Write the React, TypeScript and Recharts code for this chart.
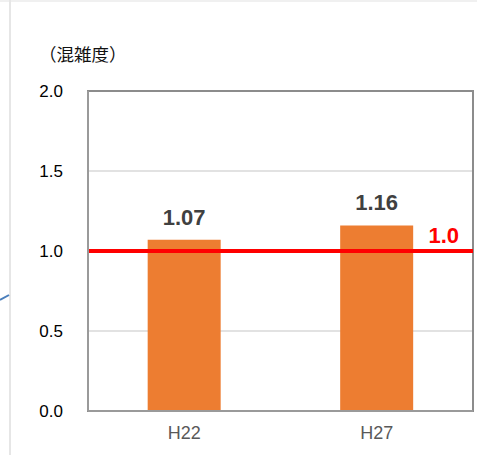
import { BarChart, Bar, XAxis, YAxis, CartesianGrid, ReferenceLine, ReferenceArea, LabelList } from "recharts";

const years = ["H22", "H27"];
const congestion = [1.07, 1.16];
const yTicks = [0, 0.5, 1.0, 1.5, 2.0];
const threshold = 1.0;

const data = years.map((y, i) => ({ year: y, value: congestion[i] }));

const ThresholdLabel = (props: any) => {
  const vb = props.viewBox || {};
  return (
    <text x={vb.x + vb.width - 14} y={vb.y - 8} textAnchor="end" fill="#ff0000" fontSize={22} fontWeight="bold" fontFamily="Liberation Sans, Arial, sans-serif">
      {threshold.toFixed(1)}
    </text>
  );
};

export default function App() {
  return (
    <div style={{ position: "relative", width: 477, height: 455, background: "#fff", fontFamily: "Liberation Sans, Arial, sans-serif" }}>
      <style>{`body{margin:0}`}</style>
      <div style={{ position: "absolute", left: 0, top: 0, width: 477, height: 2, background: "#f0f0f0" }} />
      <div style={{ position: "absolute", left: 9, top: 0, width: 2, height: 455, background: "#e6e6e6" }} />
      <svg style={{ position: "absolute", left: 0, top: 0 }} width={12} height={455}>
        <line x1={0} y1={300} x2={9} y2={295} stroke="#4a7ebb" strokeWidth={2} />
      </svg>
      <div style={{ position: "absolute", left: 39, top: 41, fontSize: 17.5, fontFamily: "Noto Sans CJK JP, sans-serif", color: "#111" }}>（混雑度）</div>
      <div style={{ position: "absolute", left: 0, top: 0 }}>
        <BarChart width={477} height={455} data={data} margin={{ top: 91, right: 4, bottom: 0, left: 0 }} barCategoryGap="31%">
          <CartesianGrid vertical={false} stroke="#d9d9d9" strokeWidth={1.5} />
          <XAxis dataKey="year" height={44} axisLine={{ stroke: "#9a9a9a", strokeWidth: 2 }} tickLine={false} tickSize={0} tickMargin={15} tick={{ fill: "#595959", fontSize: 18 }} />
          <YAxis domain={[0, 2]} ticks={yTicks} width={88} axisLine={{ stroke: "#9a9a9a", strokeWidth: 2 }} tickLine={false} tickSize={0} tickMargin={25} tick={{ fill: "#000", fontSize: 17 }} tickFormatter={(v: number) => v.toFixed(1)} />
          <ReferenceArea y1={0} y2={2} fill="none" stroke="#8c8c8c" strokeWidth={2} ifOverflow="visible" />
          <Bar dataKey="value" fill="#ED7D31" isAnimationActive={false}>
            <LabelList dataKey="value" position="top" offset={15} fill="#404040" fontSize={22} fontWeight="bold" formatter={(v: any) => Number(v).toFixed(2)} />
          </Bar>
          <ReferenceLine y={threshold} stroke="#ff0000" strokeWidth={4} label={<ThresholdLabel />} />
        </BarChart>
      </div>
    </div>
  );
}
